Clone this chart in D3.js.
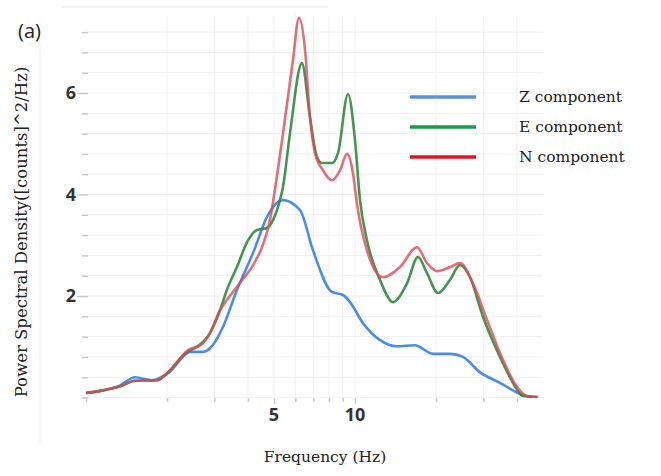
<!DOCTYPE html>
<html>
<head>
    <title>Power Spectral Density</title>
    <script src="https://d3js.org/d3.v7.min.js"></script>
    <style>
        body { margin: 0; background: #fff; }
        .serif { font-family: "DejaVu Serif", serif; fill: #222; }
        .tick-label { font-family: "Open Sans", sans-serif; font-weight: 700; fill: #333; }
    </style>
</head>
<body>
<div id="chart"></div>
<script>
// Z component
const zFreq = [1.0, 1.13, 1.34, 1.52, 1.76, 2.02, 2.44, 2.72, 2.89, 3.23, 3.64, 4.18, 4.71, 5.4, 6.25, 6.98, 8.21, 9.03, 9.58, 10.7, 12.4, 14.3, 16.7, 19.5, 22.6, 25.2, 29.1, 34.6, 42.1, 45.5];
const zPsd  = [0.09, 0.13, 0.24, 0.40, 0.34, 0.48, 0.90, 0.90, 0.97, 1.39, 2.12, 2.85, 3.56, 3.89, 3.69, 2.90, 2.08, 2.02, 1.88, 1.47, 1.13, 1.01, 1.03, 0.86, 0.86, 0.80, 0.50, 0.29, 0.05, 0.01];

// E component
const eFreq = [1.0, 1.13, 1.34, 1.52, 1.84, 2.02, 2.38, 2.59, 2.89, 3.15, 3.34, 3.64, 3.97, 4.32, 4.71, 4.96, 5.26, 5.40, 5.73, 6.35, 6.80, 7.22, 7.54, 8.21, 8.65, 9.42, 10.0, 10.44, 11.08, 12.38, 13.85, 15.61, 17.15, 18.52, 20.36, 22.56, 24.57, 26.76, 29.92, 34.59, 38.67, 42.13, 47.5];
const ePsd  = [0.09, 0.13, 0.22, 0.33, 0.34, 0.50, 0.90, 1.00, 1.27, 1.72, 2.12, 2.57, 3.06, 3.30, 3.34, 3.50, 3.89, 4.15, 5.20, 6.59, 5.53, 4.74, 4.62, 4.62, 4.82, 5.98, 5.07, 3.89, 3.10, 2.32, 1.88, 2.25, 2.77, 2.45, 2.06, 2.32, 2.61, 2.37, 1.59, 0.80, 0.29, 0.03, 0.01];

// N component
const nFreq = [1.0, 1.13, 1.34, 1.52, 1.84, 2.02, 2.38, 2.72, 2.89, 3.15, 3.34, 3.74, 4.18, 4.51, 4.83, 5.04, 5.40, 5.88, 6.19, 6.52, 6.80, 7.10, 7.60, 8.21, 8.80, 9.34, 9.83, 10.18, 11.08, 12.71, 14.70, 17.0, 18.52, 20.18, 22.56, 24.57, 27.46, 30.96, 35.5, 40.0, 43.6, 48.0];
const nPsd  = [0.09, 0.13, 0.22, 0.33, 0.34, 0.50, 0.92, 1.07, 1.27, 1.72, 1.92, 2.26, 2.61, 2.96, 3.50, 4.10, 5.20, 6.65, 7.48, 6.85, 5.53, 4.82, 4.48, 4.28, 4.48, 4.80, 4.42, 3.80, 2.90, 2.37, 2.57, 2.96, 2.65, 2.49, 2.57, 2.65, 2.25, 1.53, 0.74, 0.21, 0.03, 0.01];

const xTicks = [1, 2, 3, 4, 5, 6, 7, 8, 9, 10, 20, 30, 40];
const xLabelTicks = [5, 10];
const yMinorTicks = d3.range(0, 7.3, 0.4);
const yLabelTicks = [2, 4, 6];

const series = [
    { name: "Z component", freq: zFreq, psd: zPsd, color: "#4a8cec", legend: "#5b92d6", opacity: 1 },
    { name: "E component", freq: eFreq, psd: ePsd, color: "#2f8a3c", legend: "#12a044", opacity: 0.9 },
    { name: "N component", freq: nFreq, psd: nPsd, color: "#dc4a55", legend: "#e3121c", opacity: 0.8 }
];

const W = 661, H = 476;
const svg = d3.select("#chart").append("svg")
    .attr("width", W)
    .attr("height", H);

const x = d3.scaleLog().domain([1, 50]).range([86, 543]);
const y = d3.scaleLinear().domain([0, 7.5]).range([397.5, 16.9]);

// faint frame remnants
svg.append("line").attr("x1", 62).attr("x2", 328).attr("y1", 7).attr("y2", 7)
    .attr("stroke", "#e6e6e6");
svg.append("line").attr("x1", 40).attr("x2", 40).attr("y1", 45).attr("y2", 443)
    .attr("stroke", "#f0f0f0");

// grid
svg.append("g").selectAll("line")
    .data(yMinorTicks.filter(d => d > 0))
    .join("line")
    .attr("x1", 88).attr("x2", 543)
    .attr("y1", d => y(d)).attr("y2", d => y(d))
    .attr("stroke", "#efefef");

svg.append("g").selectAll("line")
    .data(xTicks.slice(1))
    .join("line")
    .attr("x1", d => x(d)).attr("x2", d => x(d))
    .attr("y1", 15).attr("y2", 397)
    .attr("stroke", "#f1f1f1");

svg.append("line").attr("x1", 86).attr("x2", 543).attr("y1", 397.5).attr("y2", 397.5)
    .attr("stroke", "#f2f2f2");

// y axis ticks
const yAxis = svg.append("g")
    .attr("transform", "translate(88,0)")
    .call(d3.axisLeft(y).tickValues(yMinorTicks).tickSize(6).tickFormat(""));
yAxis.select(".domain").remove();
yAxis.selectAll(".tick line").attr("stroke", "#c8c8c8").attr("stroke-width", 1.5)
    .attr("x2", d => yLabelTicks.includes(Math.round(d * 10) / 10) ? -11 : -6);

svg.append("g").selectAll("text")
    .data(yLabelTicks)
    .join("text")
    .attr("class", "tick-label")
    .attr("x", 76)
    .attr("y", d => y(d) + 6)
    .attr("text-anchor", "end")
    .attr("font-size", 18)
    .text(d => d);

// x axis ticks
const xAxis = svg.append("g")
    .attr("transform", "translate(0,398)")
    .call(d3.axisBottom(x).tickValues(xTicks).tickSize(4).tickFormat(""));
xAxis.select(".domain").remove();
xAxis.selectAll(".tick line").attr("stroke", "#c8c8c8").attr("stroke-width", 1.5)
    .attr("y2", d => xLabelTicks.includes(d) ? 6 : 4);

svg.append("g").selectAll("text")
    .data(xLabelTicks)
    .join("text")
    .attr("class", "tick-label")
    .attr("x", d => x(d))
    .attr("y", 421)
    .attr("text-anchor", "middle")
    .attr("font-size", 18)
    .text(d => d);

// curves
const line = d3.line()
    .x(d => x(d[0]))
    .y(d => y(d[1]))
    .curve(d3.curveMonotoneX);

series.forEach(s => {
    svg.append("path")
        .datum(s.freq.map((f, i) => [f, s.psd[i]]))
        .attr("fill", "none")
        .attr("stroke", s.color)
        .attr("stroke-width", 2.6)
        .attr("stroke-opacity", s.opacity)
        .attr("stroke-linejoin", "round")
        .attr("d", line);
});

// legend
const legend = svg.append("g");
series.forEach((s, i) => {
    const ly = 97 + i * 30;
    legend.append("line")
        .attr("x1", 410).attr("x2", 476)
        .attr("y1", ly).attr("y2", ly)
        .attr("stroke", s.legend)
        .attr("stroke-width", 3.5);
    legend.append("text")
        .attr("class", "serif")
        .attr("x", 519)
        .attr("y", ly + 5)
        .attr("font-size", 15.5)
        .text(s.name);
});

// titles
svg.append("text")
    .attr("class", "serif")
    .attr("x", 325).attr("y", 462)
    .attr("text-anchor", "middle")
    .attr("font-size", 15.5)
    .text("Frequency (Hz)");

svg.append("text")
    .attr("class", "serif")
    .attr("transform", "translate(27,232) rotate(-90)")
    .attr("text-anchor", "middle")
    .attr("font-size", 16.5)
    .text("Power Spectral Density([counts]^2/Hz)");

svg.append("text")
    .attr("x", 18).attr("y", 38)
    .attr("font-family", "Open Sans, sans-serif")
    .attr("font-size", 20)
    .attr("fill", "#222")
    .text("(a)");
</script>
</body>
</html>
